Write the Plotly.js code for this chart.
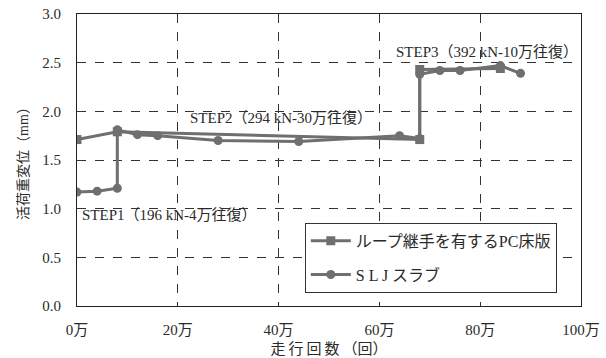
<!DOCTYPE html>
<html><head><meta charset="utf-8">
<script src="https://cdn.plot.ly/plotly-3.0.1.min.js"></script>
<style>body{margin:0;background:#fff}</style>
</head><body><div id="g" style="width:606px;height:358px"></div>
<script>
// x values in 万回
const pcX = [0, 8, 68, 68, 84];
const pcY = [1.71, 1.79, 1.71, 2.43, 2.44];
const sljX = [0, 4, 8, 8, 12, 16, 28, 44, 64, 68, 68, 72, 76, 84, 88];
const sljY = [1.17, 1.18, 1.21, 1.81, 1.76, 1.75, 1.70, 1.69, 1.75, 1.72, 2.38, 2.42, 2.42, 2.47, 2.39];
const seriesNames = ['ループ継手を有するPC床版', 'S L J スラブ'];
const xTickVals = [0, 20, 40, 60, 80, 100];
const xTickText = ['0万', '20万', '40万', '60万', '80万', '100万'];
const stepLabels = ['STEP1（196 kN-4万往復）', 'STEP2（294 kN-30万往復）', 'STEP3（392 kN-10万往復）'];
const stepX = [0.5, 22.0, 62.8];
const stepY = [0.93, 1.93, 2.61];

const F = "'Liberation Serif', 'Times New Roman', 'Noto Sans CJK JP', serif";
const gray = '#6f6f6f';
const txt = '#2a2a2a';
const traces = [
  {x: pcX, y: pcY, name: seriesNames[0], mode: 'lines+markers', legendgroup: 'a',
   line: {color: gray, width: 3}, marker: {symbol: 'square', size: 9, color: gray}},
  {x: sljX, y: sljY, name: seriesNames[1], mode: 'lines+markers', legendgroup: 'b',
   line: {color: gray, width: 3}, marker: {symbol: 'circle', size: 9, color: gray}}
];
const layout = {
  width: 606, height: 358,
  margin: {l: 77, r: 25, t: 14, b: 52},
  paper_bgcolor: '#fff', plot_bgcolor: '#fff',
  font: {family: F, size: 15, color: txt},
  showlegend: true,
  legend: {x: 0.452, y: 0.285, xanchor: 'left', yanchor: 'top',
    bordercolor: '#333', borderwidth: 1, bgcolor: '#fff',
    traceorder: 'grouped', tracegroupgap: 10,
    font: {family: F, size: 16, color: txt}, itemwidth: 40},
  xaxis: {range: [0, 100], tickmode: 'array', tickvals: xTickVals, ticktext: xTickText,
    showline: true, linecolor: '#222', linewidth: 1, mirror: true,
    showgrid: true, gridcolor: '#333', griddash: 'dash', gridwidth: 1,
    zeroline: false, ticks: '', ticklabelstandoff: 10, tickfont: {size: 15, family: F, color: txt},
    title: {text: '走\u2009行\u2009回\u2009数\u2009（回）', font: {size: 15, family: F, color: txt}, standoff: 6}},
  yaxis: {range: [0, 3], dtick: 0.5, tickformat: '.1f',
    showline: true, linecolor: '#222', linewidth: 1, mirror: true,
    showgrid: true, gridcolor: '#333', griddash: 'dash', gridwidth: 1,
    zeroline: false, ticks: '', ticklabelstandoff: 12, tickfont: {size: 15, family: F, color: txt},
    title: {text: '活荷重変位（mm）', font: {size: 14, family: F, color: txt}, standoff: 10}},
  annotations: stepLabels.map((t, i) => ({x: stepX[i], y: stepY[i], xref: 'x', yref: 'y',
    text: t, showarrow: false, xanchor: 'left', yanchor: 'middle',
    font: {size: 15, family: F, color: txt}}))
};
Plotly.newPlot('g', traces, layout, {displayModeBar: false, staticPlot: true});
</script></body></html>
